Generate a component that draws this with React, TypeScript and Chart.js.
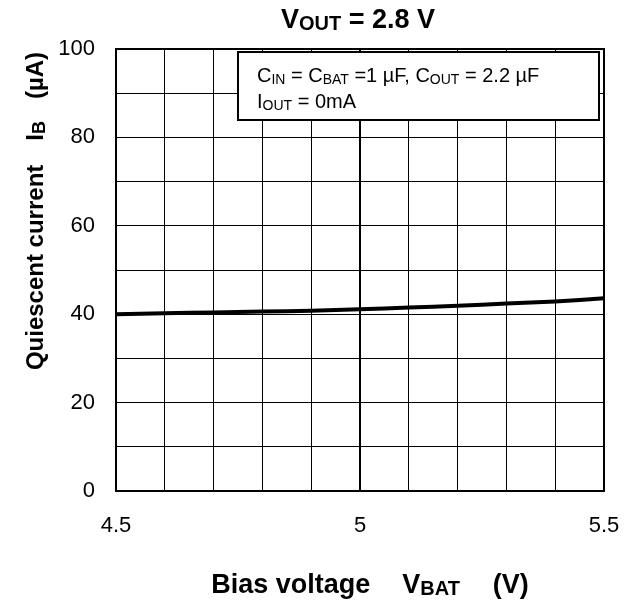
import React, { useEffect, useRef } from "react";
import { Chart, registerables } from "chart.js";

Chart.register(...registerables);

const biasVoltage = [4.5, 4.6, 4.7, 4.8, 4.9, 5.0, 5.1, 5.2, 5.3, 5.4, 5.5];
const quiescentCurrent = [40.0, 40.2, 40.4, 40.6, 40.8, 41.1, 41.5, 41.9, 42.4, 42.9, 43.6];
const xMajorTicks = [4.5, 5, 5.5];
const yMajorTicks = [0, 20, 40, 60, 80, 100];

type Seg = { t: string; sub?: boolean; gap?: number };

const FONT = "'Liberation Sans', Arial, sans-serif";

function drawRich(ctx: CanvasRenderingContext2D, segs: Seg[], x: number, y: number, size: number, bold: boolean, align: "left" | "center", subRatio = 0.72) {
  const w = bold ? "bold " : "";
  const subSize = Math.round(size * subRatio);
  const segW = (s: Seg) => {
    if (s.gap) return s.gap;
    ctx.font = `${w}${s.sub ? subSize : size}px ${FONT}`;
    return ctx.measureText(s.t).width;
  };
  let total = 0;
  for (const s of segs) total += segW(s);
  let cx = align === "center" ? x - total / 2 : x;
  ctx.textBaseline = "alphabetic";
  ctx.textAlign = "left";
  for (const s of segs) {
    const sw = segW(s);
    if (!s.gap) {
      ctx.font = `${w}${s.sub ? subSize : size}px ${FONT}`;
      ctx.fillText(s.t, cx, s.sub ? y + size * 0.08 : y);
    }
    cx += sw;
  }
}

const annotPlugin = {
  id: "annot",
  afterDraw(chart: any) {
    const ctx = chart.ctx as CanvasRenderingContext2D;
    const { left, right, top, bottom } = chart.chartArea;
    ctx.save();
    ctx.fillStyle = "#000";
    // title
    drawRich(ctx, [{ t: "V" }, { t: "OUT", sub: true }, { t: " = 2.8 V" }], 358, 28, 27, true, "center", 0.74);
    // x title
    drawRich(ctx, [{ t: "Bias voltage", gap: 0 }, { t: "", gap: 32 }, { t: "V" }, { t: "BAT", sub: true }, { t: "", gap: 33 }, { t: "(V)" }], 370, 593, 27, true, "center", 0.74);
    // y title
    ctx.save();
    ctx.translate(43, 211);
    ctx.rotate(-Math.PI / 2);
    drawRich(ctx, [{ t: "Quiescent current" }, { t: "", gap: 24 }, { t: "I" }, { t: "B", sub: true }, { t: "", gap: 22 }, { t: "(\u00b5A)" }], 0, 0, 24, true, "center", 0.74);
    ctx.restore();
    // frame
    ctx.strokeStyle = "#000";
    ctx.lineWidth = 2;
    ctx.strokeRect(left, top, right - left, bottom - top);
    // legend box
    const bx = 238, by = 52, bw = 361, bh = 68;
    ctx.fillStyle = "#fff";
    ctx.fillRect(bx, by, bw, bh);
    ctx.strokeStyle = "#000";
    ctx.lineWidth = 2;
    ctx.strokeRect(bx, by, bw, bh);
    ctx.fillStyle = "#000";
    drawRich(ctx, [{ t: "C" }, { t: "IN", sub: true }, { t: " = C" }, { t: "BAT", sub: true }, { t: " =1 \u00b5F, C" }, { t: "OUT", sub: true }, { t: " = 2.2 \u00b5F" }], 257, 82, 20, false, "left");
    drawRich(ctx, [{ t: "I" }, { t: "OUT", sub: true }, { t: " = 0mA" }], 257, 108, 20, false, "left");
    ctx.restore();
  },
};

export default function App() {
  const ref = useRef<HTMLCanvasElement>(null);
  useEffect(() => {
    document.body.style.margin = "0";
    const chart = new Chart(ref.current!, {
      type: "line",
      data: {
        datasets: [
          {
            data: biasVoltage.map((x, i) => ({ x, y: quiescentCurrent[i] })),
            borderColor: "#000",
            borderWidth: 4,
            pointRadius: 0,
            tension: 0.3,
            fill: false,
          },
        ],
      },
      options: {
        animation: false,
        responsive: false,
        layout: { padding: { left: 0, right: 28, top: 49, bottom: 0 } },
        plugins: { legend: { display: false }, tooltip: { enabled: false } },
        scales: {
          x: {
            type: "linear",
            min: 4.5,
            max: 5.5,
            border: { display: false },
            afterFit: (s: any) => {
              s.height = 110;
              s.paddingLeft = 0;
              s.paddingRight = 0;
            },
            afterBuildTicks: (s: any) => {
              const t = [];
              for (let k = 0; k <= 10; k++) t.push({ value: 4.5 + k * 0.1 });
              s.ticks = t;
            },
            grid: {
              drawTicks: false,
              color: "#000",
              lineWidth: (c: any) => (Math.abs(c.tick?.value - 5) < 1e-6 ? 2 : 1),
            },
            ticks: {
              padding: 22,
              maxRotation: 0,
              autoSkip: false,
              color: "#000",
              font: { family: FONT, size: 22 },
              callback: (v: any) => {
                const n = Number(v);
                return xMajorTicks.some((m) => Math.abs(m - n) < 1e-6) ? String(Math.round(n * 10) / 10) : "";
              },
            },
          },
          y: {
            min: 0,
            max: 100,
            border: { display: false },
            afterFit: (s: any) => {
              s.width = 116;
              s.paddingTop = 0;
              s.paddingBottom = 0;
            },
            grid: { drawTicks: false, color: "#000", lineWidth: 1 },
            ticks: {
              stepSize: 10,
              padding: 21,
              color: "#000",
              font: { family: FONT, size: 22 },
              callback: (v: any) => (yMajorTicks.includes(Number(v)) ? String(v) : ""),
            },
          },
        },
      },
      plugins: [annotPlugin],
    });
    return () => chart.destroy();
  }, []);
  return (
    <div style={{ position: "fixed", left: 0, top: 0, width: 632, height: 601, background: "#fff" }}>
      <canvas ref={ref} width={632} height={601} style={{ width: 632, height: 601 }} />
    </div>
  );
}
